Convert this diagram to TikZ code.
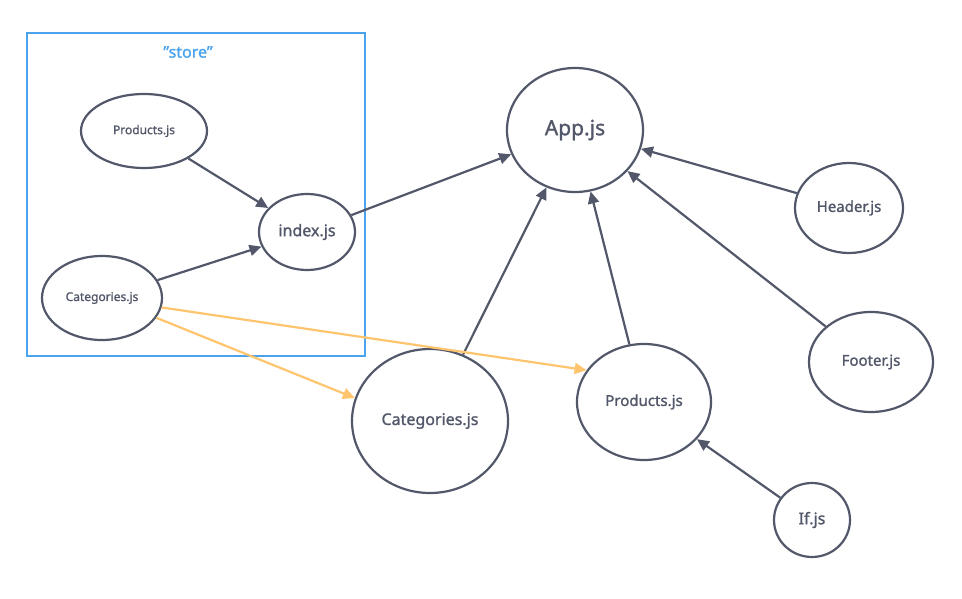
\documentclass[tikz,border=0pt]{standalone}
\usepackage{fontspec}
\setmainfont{Noto Sans}[RawFeature={embolden=1.3}]
\usepackage{xcolor}
\usepackage{tikz}
\usetikzlibrary{arrows.meta,shapes.geometric}
\definecolor{slate}   {RGB}{82, 88, 106}
\definecolor{storeblue}{RGB}{74, 163, 236}
\definecolor{flowamber}{RGB}{255, 196, 110}

\tikzset{
  file/.style={ellipse,draw=slate,line width=2.2pt,text=slate,inner sep=0pt},
  dep/.style={draw=slate,line width=2.2pt,-{Triangle[length=12pt,width=11pt]}},
  feed/.style={draw=flowamber,line width=2.2pt,-{Triangle[length=12pt,width=11pt]}}
}

\begin{document}
\begin{tikzpicture}[x=1pt,y=-1pt]
      \useasboundingbox (0,0) rectangle (962,599);
      \draw[storeblue,line width=2.2pt] (27,33) rectangle (365,356);
      \node[storeblue,font=\fontsize{16}{19}\selectfont] (storelbl) at (188,52) {\char34 store\char34};

      \node[file,minimum width=126pt,minimum height=74pt,font=\fontsize{12}{14}\selectfont] (prodstore) at (144,131) {Products.js};
      \node[file,minimum width=96pt,minimum height=76pt,font=\fontsize{16}{19}\selectfont] (indexjs) at (307,232) {index.js};
      \node[file,minimum width=120pt,minimum height=84pt,font=\fontsize{12}{14}\selectfont] (catstore) at (102,298) {Categories.js};

      \node[file,minimum width=136pt,minimum height=124pt,font=\fontsize{21}{25}\selectfont] (appjs) at (575,130) {App.js};
      \node[file,minimum width=108pt,minimum height=90pt,font=\fontsize{15}{18}\selectfont] (headerjs) at (849,208) {Header.js};
      \node[file,minimum width=124pt,minimum height=100pt,font=\fontsize{15}{18}\selectfont] (footerjs) at (871,362) {Footer.js};
      \node[file,minimum width=156pt,minimum height=144pt,font=\fontsize{16}{19}\selectfont] (catjs) at (430,421) {Categories.js};
      \node[file,minimum width=134pt,minimum height=116pt,font=\fontsize{15}{18}\selectfont] (prodjs) at (644,402) {Products.js};
      \node[file,minimum width=76pt,minimum height=74pt,font=\fontsize{16}{19}\selectfont] (ifjs) at (812,520) {If.js};

      \draw[dep] (prodstore) -- (indexjs);
      \draw[dep] (catstore) -- (indexjs);
      \draw[dep] (indexjs) -- (appjs);
      \draw[dep] (catjs) -- (appjs);
      \draw[dep] (prodjs) -- (appjs);
      \draw[dep] (headerjs) -- (appjs);
      \draw[dep] (footerjs) -- (appjs);
      \draw[dep] (ifjs) -- (prodjs);

      \draw[feed] (catstore.-9) -- (prodjs.151);
      \draw[feed] (catstore.-20) -- (catjs.163);
    \end{tikzpicture}
\end{document}
